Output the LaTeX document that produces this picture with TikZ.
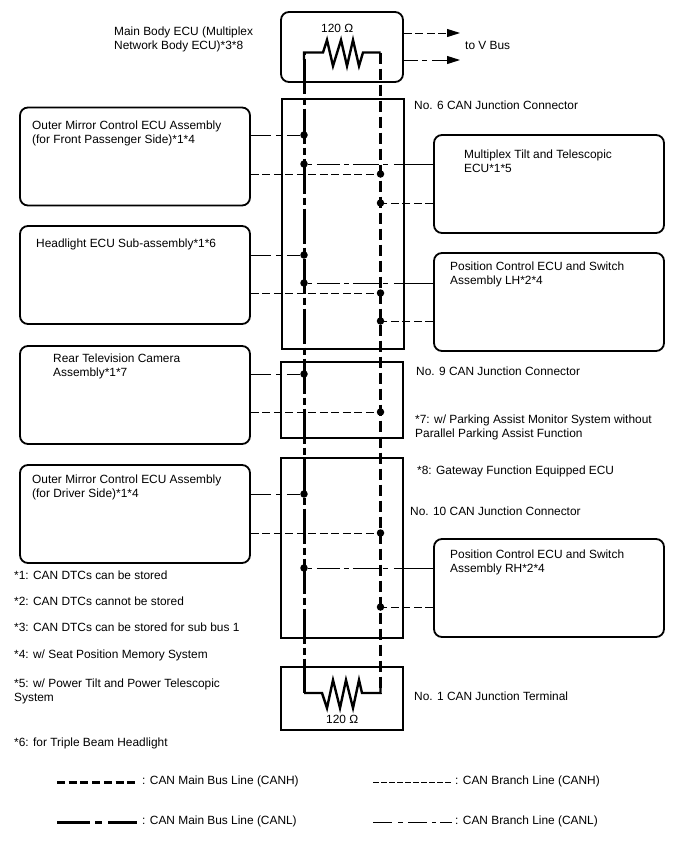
\documentclass[tikz,border=0pt]{standalone}
\usepackage{fontspec}
\usetikzlibrary{arrows.meta}
\setmainfont{Liberation Sans}
\tikzset{
	ecu/.style={draw,line width=1.8pt,rounded corners=8pt,minimum width=230pt,minimum height=98pt},
	junc/.style={draw,line width=1.8pt,minimum width=122pt},
	lbl/.style={anchor=west,align=left,inner sep=0pt,font=\fontsize{11.9}{14}\selectfont},
	dot/.style={circle,fill=black,inner sep=0pt,minimum size=7.5pt},
	mainH/.style={line width=3pt,dash pattern=on 11pt off 5pt},
	mainL/.style={line width=3pt,dash pattern=on 35pt off 4pt on 7pt off 4pt,dash phase=44pt},
	branchH/.style={line width=1pt,dash pattern=on 8pt off 3.5pt},
	branchL/.style={line width=1pt,dash pattern=on 20pt off 5pt on 6pt off 5pt on 40pt off 0pt},
	branchR/.style={line width=1pt,dash pattern=on 4pt off 5pt on 23pt off 4pt on 5pt off 4pt on 26pt off 4pt on 5pt off 6pt on 200pt off 0pt},
	tip/.style={-{Triangle[length=13pt,width=8pt]}},
}
\begin{document}
\begin{tikzpicture}[x=1pt,y=-1pt]
	\useasboundingbox (0,0) rectangle (688,852);
	% boxes
	\node[junc,rounded corners=8pt,minimum height=70pt] (body) at (342,47) {};
	\node[junc,minimum height=250pt] (jc6) at (343,224) {};
	\node[junc,minimum height=76pt] (jc9) at (342,400) {};
	\node[junc,minimum height=180pt] (jc10) at (342,548) {};
	\node[junc,minimum height=63pt] (jt1) at (342,698.5) {};
	\node[ecu] (mirrorfp) at (135,156.5) {};
	\node[ecu] (headlight) at (135,275) {};
	\node[ecu] (camera) at (135,395) {};
	\node[ecu] (mirrordr) at (135,514) {};
	\node[ecu] (tilt) at (549,184) {};
	\node[ecu] (poslh) at (549,302) {};
	\node[ecu] (posrh) at (549,588) {};
	% bus ends and resistors
	\coordinate (topL) at (304,52.5);
	\coordinate (topH) at (380.5,52.5);
	\coordinate (botL) at (304,693);
	\coordinate (botH) at (380.5,693);
	\draw[line width=2.4pt,line join=miter] (304,60) -- (topL) -- (323,52.5) -- (327,40) -- (333,66) -- (341,40) -- (347,66) -- (353,40) -- (359,66) -- (363,52.5) -- (topH);
	\draw[line width=2.4pt,line join=miter] (botL) -- (322,693) -- (327,708) -- (333,680) -- (340,708) -- (346,680) -- (353,708) -- (359,680) -- (362,693) -- (botH) -- (380.5,687);
	\draw[mainL] (topL) -- (botL);
	\draw[mainH] (topH) -- (botH);
	% junction points
	\node[dot] (a1) at (304,135) {};
	\node[dot] (a2) at (304,164) {};
	\node[dot] (a3) at (304,255) {};
	\node[dot] (a4) at (304,283) {};
	\node[dot] (a5) at (304,374) {};
	\node[dot] (a6) at (304,494) {};
	\node[dot] (a7) at (304,568) {};
	\node[dot] (b1) at (380.5,174) {};
	\node[dot] (b2) at (380.5,203) {};
	\node[dot] (b3) at (380.5,293) {};
	\node[dot] (b4) at (380.5,321) {};
	\node[dot] (b5) at (380.5,412) {};
	\node[dot] (b6) at (380.5,533) {};
	\node[dot] (b7) at (380.5,607) {};
	% branch lines
	\draw[branchL] (mirrorfp.east |- a1) -- (a1);
	\draw[branchH] (mirrorfp.east |- b1) -- (b1);
	\draw[branchR] (a2) -- (tilt.west |- a2);
	\draw[branchH] (tilt.west |- b2) -- (b2);
	\draw[branchL] (headlight.east |- a3) -- (a3);
	\draw[branchH] (headlight.east |- b3) -- (b3);
	\draw[branchR] (a4) -- (poslh.west |- a4);
	\draw[branchH] (poslh.west |- b4) -- (b4);
	\draw[branchL] (camera.east |- a5) -- (a5);
	\draw[branchH] (camera.east |- b5) -- (b5);
	\draw[branchL] (mirrordr.east |- a6) -- (a6);
	\draw[branchH] (mirrordr.east |- b6) -- (b6);
	\draw[branchR] (a7) -- (posrh.west |- a7);
	\draw[branchH] (posrh.west |- b7) -- (b7);
	% to V Bus
	\coordinate (vbusH) at (460,33);
	\coordinate (vbusL) at (460,60);
	\draw[branchH,tip] (body.east |- vbusH) -- (vbusH);
	\draw[branchL,dash pattern=on 14pt off 4pt on 5pt off 5pt on 60pt off 0pt,tip] (body.east |- vbusL) -- (vbusL);
	% texts
	\node[lbl] (tbody) at (114,39) {Main Body ECU (Multiplex\\Network Body ECU)*3*8};
	\node[lbl] (tohm1) at (321,28) {120 Ω};
	\node[lbl] (tvbus) at (465,45) {to V Bus};
	\node[lbl] (tjc6) at (414,105) {No. 6 CAN Junction Connector};
	\node[lbl] (tmirrorfp) at (32,133) {Outer Mirror Control ECU Assembly\\(for Front Passenger Side)*1*4};
	\node[lbl] (ttilt) at (464,161) {Multiplex Tilt and Telescopic\\ECU*1*5};
	\node[lbl] (theadlight) at (36,244) {Headlight ECU Sub-assembly*1*6};
	\node[lbl] (tposlh) at (450,274) {Position Control ECU and Switch\\Assembly LH*2*4};
	\node[lbl] (tcamera) at (53,366) {Rear Television Camera\\Assembly*1*7};
	\node[lbl] (tjc9) at (416,371) {No. 9 CAN Junction Connector};
	\node[lbl] (tn7) at (415,427) {*7: w/ Parking Assist Monitor System without\\Parallel Parking Assist Function};
	\node[lbl] (tn8) at (417,471) {*8: Gateway Function Equipped ECU};
	\node[lbl] (tmirrordr) at (32,487) {Outer Mirror Control ECU Assembly\\(for Driver Side)*1*4};
	\node[lbl] (tjc10) at (410,511) {No. 10 CAN Junction Connector};
	\node[lbl] (tposrh) at (450,562) {Position Control ECU and Switch\\Assembly RH*2*4};
	\node[lbl] (tn1) at (14,575) {*1: CAN DTCs can be stored};
	\node[lbl] (tn2) at (14,601) {*2: CAN DTCs cannot be stored};
	\node[lbl] (tn3) at (14,627) {*3: CAN DTCs can be stored for sub bus 1};
	\node[lbl] (tn4) at (14,655) {*4: w/ Seat Position Memory System};
	\node[lbl] (tn5) at (14,691) {*5: w/ Power Tilt and Power Telescopic\\System};
	\node[lbl] (tjt1) at (414,696) {No. 1 CAN Junction Terminal};
	\node[lbl] (tohm2) at (326,719) {120 Ω};
	\node[lbl] (tn6) at (14,743) {*6: for Triple Beam Headlight};
	% legend
	\coordinate (k1a) at (57,782);
	\coordinate (k2a) at (57,822);
	\coordinate (k3a) at (373,782);
	\coordinate (k4a) at (373,822);
	\node[lbl] (k1) at (142,781) {: CAN Main Bus Line (CANH)};
	\node[lbl] (k2) at (142,821) {: CAN Main Bus Line (CANL)};
	\node[lbl] (k3) at (455,781) {: CAN Branch Line (CANH)};
	\node[lbl] (k4) at (455,821) {: CAN Branch Line (CANL)};
	\draw[mainH,dash pattern=on 8pt off 3.7pt,shorten >=5pt] (k1a) -- (k1.west |- k1a);
	\draw[mainL,dash pattern=on 33pt off 5pt on 7pt off 6pt on 40pt off 0pt,dash phase=0pt,shorten >=5pt] (k2a) -- (k2.west |- k2a);
	\draw[branchH,dash pattern=on 5.5pt off 2.5pt,shorten >=3pt] (k3a) -- (k3.west |- k3a);
	\draw[branchL,dash pattern=on 19pt off 6pt on 5pt off 5pt on 19pt off 5pt on 4pt off 4pt on 10pt off 0pt,shorten >=3pt] (k4a) -- (k4.west |- k4a);
\end{tikzpicture}
\end{document}
